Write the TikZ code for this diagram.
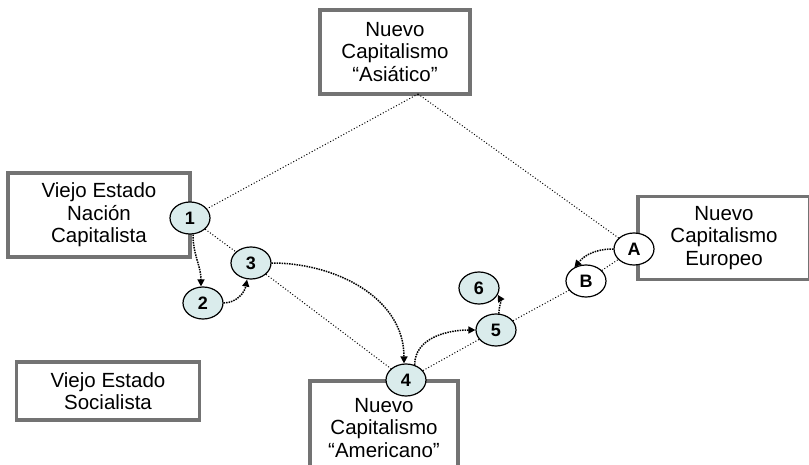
\documentclass[tikz,border=0pt]{standalone}
\usepackage{fontspec}
\setmainfont{Liberation Sans}
\usetikzlibrary{arrows.meta,shapes.geometric}
\definecolor{cfill}{RGB}{218,236,236}
\begin{document}
\begin{tikzpicture}[x=1pt,y=-1pt,
  box/.style={draw=black!55,line width=3.4pt,align=center,font=\fontsize{20.5}{22.5}\selectfont,inner sep=0pt},
  num/.style={ellipse,draw,line width=1.2pt,fill=cfill,minimum width=40pt,minimum height=32pt,inner sep=0pt,font=\bfseries\fontsize{18}{18}\selectfont},
  let/.style={num,fill=white},
  link/.style={dotted,line width=1pt},
  arr/.style={densely dotted,line width=1.5pt,-{Triangle[length=7pt,width=7pt]}}]
\useasboundingbox (0,0) rectangle (809,465);
\node[box,minimum width=150pt,minimum height=84pt] (asia) at (395,52) {Nuevo\\Capitalismo\\“Asiático”};
\node[box,minimum width=182pt,minimum height=84pt] (nacion) at (99,215) {Viejo Estado\\Nación\\Capitalista};
\node[box,minimum width=172pt,minimum height=83pt] (euro) at (724,238) {Nuevo\\Capitalismo\\Europeo};
\node[box,minimum width=183pt,minimum height=58pt] (social) at (108,391) {Viejo Estado\\Socialista};
\draw[draw=black!55,line width=3.4pt] (310,475) -- (310,381) -- (458,381) -- (458,475);
\node[align=center,font=\fontsize{20.5}{22.5}\selectfont] (amer) at (384,428) {Nuevo\\Capitalismo\\“Americano”};
\coordinate (asiab) at (418,94);
\node[num] (n1) at (190,218) {1};
\node[num] (n3) at (251,263) {3};
\node[num] (n2) at (203,303) {2};
\node[num] (n4) at (406,380) {4};
\node[num] (n5) at (496,330) {5};
\node[num] (n6) at (479,288) {6};
\node[let] (nB) at (586,281) {B};
\node[let] (nA) at (634,249) {A};
\draw[link] (asiab) -- (n1);
\draw[link] (asiab) -- (nA);
\draw[link] (n1) -- (n3);
\draw[link] (n3) -- (n4);
\draw[link] (n4) -- (n5);
\draw[link] (n5) -- (nB);
\draw[link] (nB) -- (nA);
\draw[arr] (n1.south) ++(3,0) to[out=-90,in=90] ([xshift=-2pt]n2.north);
\draw[arr] (n2.east) to[out=0,in=-100] ([xshift=-4pt]n3.south);
\draw[arr] (n3.east) to[out=0,in=90] ([xshift=-2pt]n4.north);
\draw[arr] (n4.60) to[out=90,in=180] (n5.west);
\draw[arr] (n5.80) to[out=90,in=-60] (n6.-20);
\draw[arr] (nA.west) to[out=180,in=50] (nB.130);
\end{tikzpicture}
\end{document}
